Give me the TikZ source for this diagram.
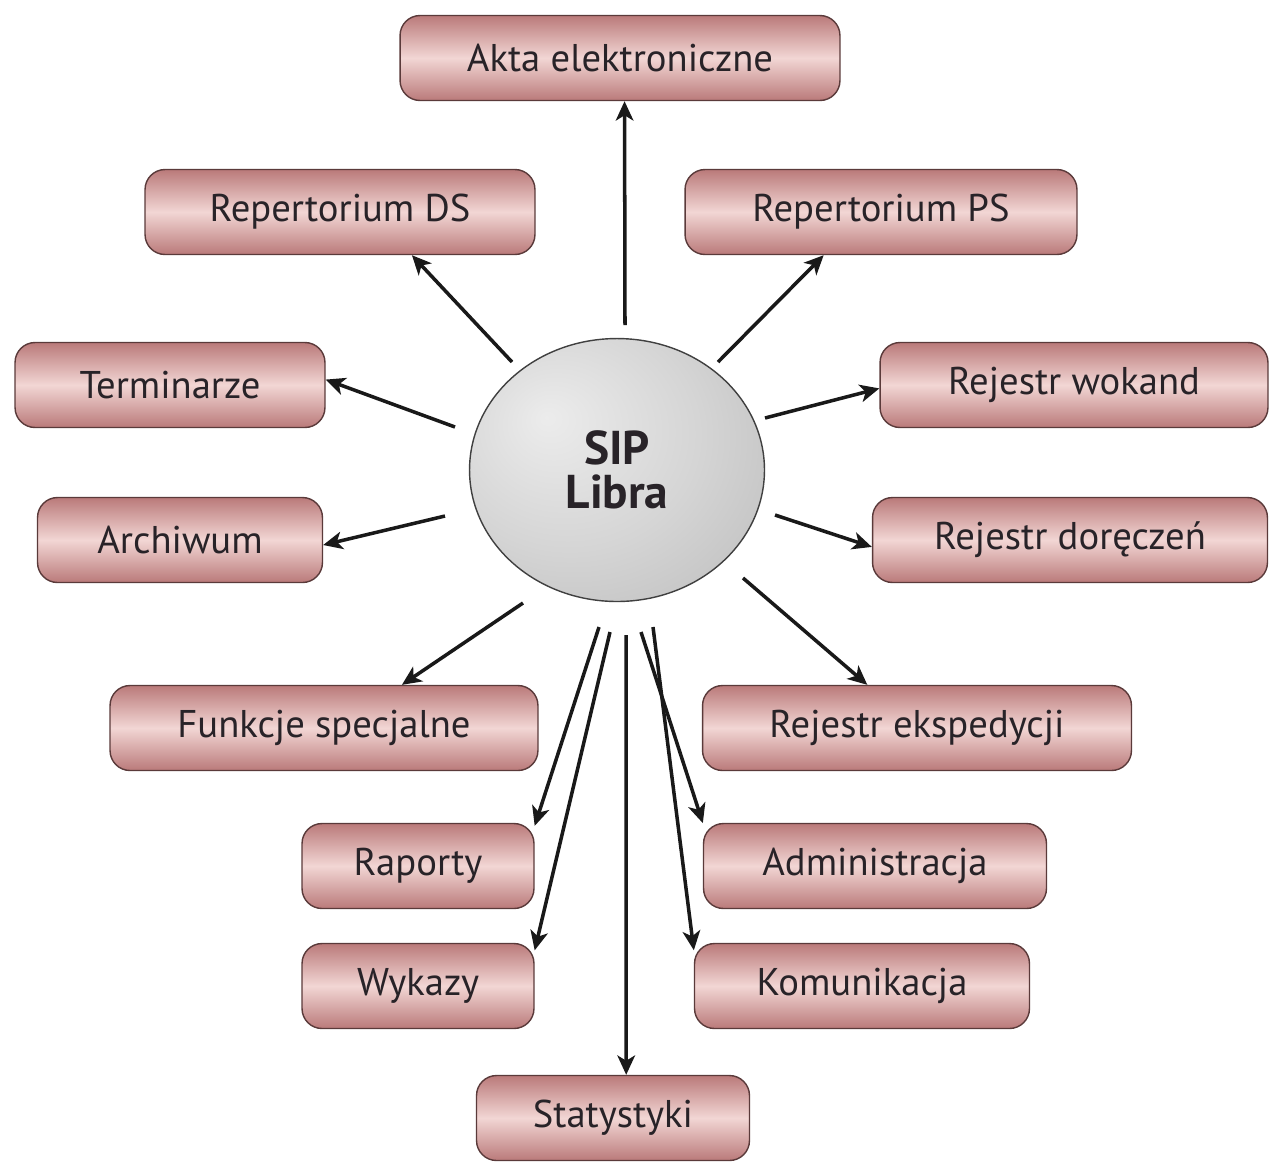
\documentclass[tikz,border=0pt]{standalone}
\usepackage{fontspec}
\setmainfont{PT Sans}
\usepackage{tikz}
\usetikzlibrary{arrows.meta,positioning,shapes.geometric}

\definecolor{boxedge}{RGB}{90,58,58}
\definecolor{boxdark}{RGB}{186,122,122}
\definecolor{boxlight}{RGB}{242,214,212}
\definecolor{txt}{RGB}{40,35,40}
\pgfdeclareradialshading{sphere}{\pgfpoint{-12bp}{10bp}}{%
  color(0bp)=(gray!15); color(22bp)=(gray!33); color(48bp)=(gray!58); color(68bp)=(gray!88)}

\tikzset{
  modul/.style={draw=boxedge, line width=0.8pt, rounded corners=0.4cm,
    top color=boxdark, bottom color=boxdark, middle color=boxlight,
    minimum height=1.7cm, text=txt, font=\fontsize{22}{26}\selectfont},
  kula/.style={ellipse, draw=black!75, line width=0.8pt, shading=sphere,
    minimum width=5.9cm, minimum height=5.26cm, align=center, text=txt,
    font=\fontsize{27}{25}\selectfont\bfseries},
  arrow/.style={-{Stealth[length=11pt,width=10pt,inset=3pt]}, line width=2pt, black!90}
}

\begin{document}
\begin{tikzpicture}[x=0.02cm, y=-0.02cm]
   \useasboundingbox (0,0) rectangle (1270,1161);

   % centre
   \node[kula] (sip) at (617,470) {SIP\\Libra};

   % moduly
   \node[modul, minimum width=8.8cm] (akta) at (620,58) {Akta elektroniczne};
   \node[modul, minimum width=7.8cm] (ds) at (340,212) {Repertorium DS};
   \node[modul, minimum width=7.84cm] (ps) at (881,212) {Repertorium PS};
   \node[modul, minimum width=6.2cm] (term) at (170,385) {Terminarze};
   \node[modul, minimum width=7.76cm] (wokand) at (1074,385) {Rejestr wokand};
   \node[modul, minimum width=5.7cm] (arch) at (180,540) {Archiwum};
   \node[modul, minimum width=7.9cm] (dor) at (1070,540) {Rejestr doręczeń};
   \node[modul, minimum width=8.56cm] (funk) at (324,728) {Funkcje specjalne};
   \node[modul, minimum width=8.58cm] (eksp) at (917,728) {Rejestr ekspedycji};
   \node[modul, minimum width=4.64cm] (rap) at (418,866) {Raporty};
   \node[modul, minimum width=6.86cm] (adm) at (875,866) {Administracja};
   \node[modul, minimum width=4.64cm] (wyk) at (418,986) {Wykazy};
   \node[modul, minimum width=6.7cm] (kom) at (862,986) {Komunikacja};
   \node[modul, minimum width=5.46cm] (stat) at (613,1118) {Statystyki};

   % poczatki strzalek
   \coordinate (s1) at (625,325);
   \coordinate (s2) at (512,362);
   \coordinate (s3) at (718,362);
   \coordinate (s4) at (455,427);
   \coordinate (s5) at (765,418);
   \coordinate (s6) at (445,516);
   \coordinate (s7) at (775,515);
   \coordinate (s8) at (523,603);
   \coordinate (s9) at (743,578);
   \coordinate (s10) at (599,627);
   \coordinate (s11) at (610,632);
   \coordinate (s12) at (626,635);
   \coordinate (s13) at (641,632);
   \coordinate (s14) at (653,627);

   \path[arrow]
   (s1) edge (akta.-84)
   (s2) edge (ds.-31)
   (s3) edge (ps.-143)
   (s4) edge (term.2)
   (s5) edge (wokand.181)
   (s6) edge (arch.-2)
   (s7) edge (dor.182)
   (s8) edge (funk.29)
   (s9) edge (eksp.139)
   (s10) edge (rap.19)
   (s11) edge (wyk.17)
   (s12) edge (stat.73)
   (s13) edge (adm.166)
   (s14) edge (kom.168);
\end{tikzpicture}
\end{document}
